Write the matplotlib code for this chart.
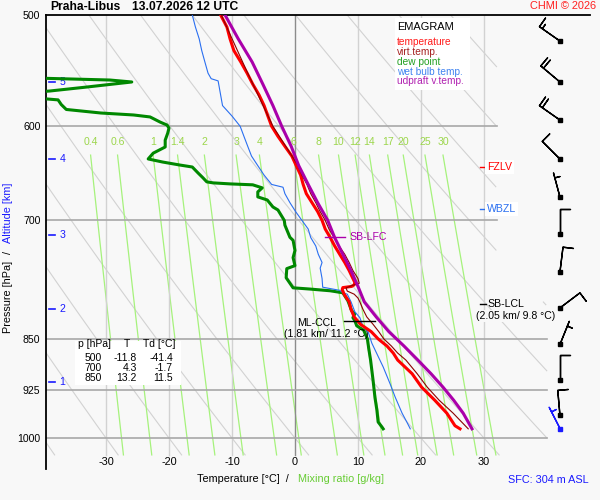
import numpy as np
import matplotlib
matplotlib.use("Agg")
import matplotlib.pyplot as plt
from matplotlib.patches import Rectangle
from matplotlib.ticker import NullLocator

plt.rcParams['font.family'] = ['Liberation Sans', 'DejaVu Sans']

# sounding (pressure hPa, temperature degC)
temp_p = [500, 510, 520, 530, 540, 550, 560, 570, 580, 590, 600, 610, 620, 630,
          640, 650, 660, 670, 680, 690, 700, 710, 720, 730, 740, 750, 760, 770,
          775, 778, 780, 781.5, 784, 790, 800, 810, 820, 830, 840, 850, 860, 870,
          880, 900, 920, 940, 960, 980, 985]
temp_t = [-11.8, -10.8, -10.3, -9.7, -8.6, -7.6, -6.7, -5.7, -4.9, -4.3, -3.7,
          -2.7, -1.6, -0.5, 0.2, 0.9, 1.3, 1.8, 2.7, 3.6, 4.3, 4.8, 5.6, 6.3, 7.1,
          7.9, 8.6, 9.2, 9.5, 9.4, 9.0, 7.6, 7.5, 7.8, 8.6, 8.9, 9.4, 10.4, 12.1,
          13.2, 14.6, 15.6, 16.3, 18.6, 20.1, 22.2, 24.1, 25.4, 26.2]

virt_p = [500, 550, 600, 640, 650, 660, 670, 680, 690, 700, 710, 720, 730, 740,
          750, 760, 770, 776, 779, 782, 786, 790, 795, 800, 810, 820, 830, 840,
          850, 860, 870, 880, 900, 920, 940, 960, 985]
virt_t = [-11.7, -7.5, -3.5, 0.5, 1.1, 1.9, 2.5, 3.3, 4.0, 4.8, 5.4, 6.2, 7.0,
          7.9, 8.6, 9.2, 10.0, 10.2, 9.0, 8.1, 8.3, 9.4, 10.0, 10.3, 10.8, 11.4,
          12.4, 13.3, 14.1, 15.3, 16.3, 17.6, 19.4, 21.0, 22.9, 25.1, 27.5]

dew_p = [500, 520, 540, 554, 556.2, 558.0, 562.6, 566.3, 568.5, 571.5, 574.6,
         579.0, 583.7, 587.1, 589.0, 590.9, 595.9, 598.8, 601.8, 606.8, 613.8,
         620.7, 627.0, 633.0, 636.2, 639.3, 641.4, 647.6, 652.9, 657.2, 658.3,
         659.4, 660.4, 663.7, 668.1, 673.6, 677.0, 684.8, 688.2, 700, 705.5,
         719.7, 723.3, 735.4, 744.1, 753.9, 757.6, 769.0, 781.8, 783.4, 785.6,
         788.2, 798.6, 811.8, 815.8, 821, 825, 832, 838, 850, 863, 880, 910,
         936, 955, 974, 982, 985]
dew_t = [-41.4, -44.0, -46.0, -44.0, -29.4, -25.9, -33.0, -38.9, -44.0, -44.0,
         -37.6, -37.1, -36.3, -30.8, -25.6, -23.0, -21.4, -20.3, -20.0, -20.2,
         -20.6, -20.6, -22.5, -23.3, -21.0, -18.3, -16.3, -15.4, -14.6, -14.0,
         -13.0, -10.3, -6.7, -5.2, -5.9, -5.9, -4.4, -3.5, -2.7, -1.7, -1.6,
         -0.8, -0.3, 0.0, -0.3, 0.0, -1.3, -1.4, -0.3, 2.4, 5.6, 7.6, 8.4, 9.0,
         9.5, 9.2, 9.5, 9.8, 10.9, 11.5, 11.7, 12.0, 12.4, 12.7, 13.0, 13.2,
         13.8, 14.0]

wet_p = [500, 510, 520, 530, 540, 550, 555, 557, 570, 580, 590, 600, 610, 620,
         630, 640, 650, 660, 663, 670, 680, 690, 700, 710, 720, 730, 740, 750,
         757, 770, 781, 785, 788, 790, 800, 813, 821, 833, 840, 856, 871, 890,
         915, 935, 960, 975, 985]
wet_t = [-16.3, -15.8, -15.2, -14.8, -14.3, -13.8, -13.3, -12.2, -11.8, -11.5,
         -10.0, -8.7, -8.1, -7.5, -6.9, -5.9, -4.9, -3.7, -1.9, -1.6, -0.8, 0.1,
         1.1, 2.1, 2.5, 3.3, 3.7, 4.3, 4.0, 4.3, 4.4, 7.1, 7.6, 8.3, 8.9, 9.5,
         10.3, 10.8, 11.6, 12.2, 13.0, 14.0, 15.1, 15.9, 17.0, 17.8, 18.3]

parcel_p = [500, 520, 540, 560, 580, 600, 620, 640, 660, 680, 700, 720, 740, 760,
            780, 800, 820, 840, 860, 880, 900, 920, 940, 960, 985]
parcel_t = [-11.1, -9.0, -6.8, -5.1, -3.5, -2.1, -0.6, 0.6, 2.1, 3.6, 5.2, 6.3,
            7.6, 8.9, 10.0, 11.0, 12.9, 14.9, 17.3, 19.5, 21.6, 23.5, 25.2, 26.7,
            28.1]

# winds every 500 m
wind_p = [521.8, 558.0, 593.9, 633.1, 673.7, 716.0, 761.8, 808.0, 857.8, 909.0, 963.4]
wind_dir = [305, 310, 305, 315, 345, 360, 7, 53, 22, 360, 355]
wind_kt = [15, 20, 20, 10, 5, 10, 10, 10, 5, 10, 10]
sfc_p = 985
sfc_dir = 333
sfc_kt = 5

# axes furniture
p_ticks = [500, 600, 700, 850, 925, 1000]
t_ticks = [-30, -20, -10, 0, 10, 20, 30]
alt_km = [1, 2, 3, 4, 5]
alt_p = [912.7, 809.4, 717.0, 633.1, 558.0]
mix_ratios = [0.4, 0.6, 1, 1.4, 2, 3, 4, 6, 8, 10, 12, 14, 17, 20, 25, 30]
mix_labels = ["0.4", "0.6", "1", "1.4", "2", "3", "4", "6", "8", "10", "12",
              "14", "17", "20", "25", "30"]
adiabat_t1000 = list(range(-40, 100, 10))

table_p = ["500", "700", "850"]
table_t = ["-11.8", "4.3", "13.2"]
table_td = ["-41.4", "-1.7", "11.5"]

fzlv_p = 641.5
wbzl_p = 687.1
lcl_p = 802.9
lfc_p = 719.5
ccl_p = 825.4

BG = "#f8f8f8"


def px(x, y):
    """pixel position -> figure fraction"""
    return x / 600, 1 - y / 500


def mixing_td(w, p):
    e = w * p / (622.0 + w)
    a = np.log(e / 6.112)
    return 243.5 * a / (17.67 - a)


def main():
    fig = plt.figure(figsize=(6, 5), dpi=100, facecolor=BG)
    ax = fig.add_axes([46 / 600, 31 / 500, 544 / 600, 454 / 500])
    ax.set_facecolor(BG)
    ax.set_yscale("log")
    ax.set_xlim(-39.52, 46.83)
    ax.set_ylim(1052, 500)

    for side in ["right", "bottom"]:
        ax.spines[side].set_visible(False)
    ax.spines["top"].set_linewidth(1.3)
    ax.spines["left"].set_linewidth(1.3)

    ax.set_xticks([])
    ax.set_yticks(p_ticks)
    ax.set_yticklabels([str(p) for p in p_ticks])
    ax.yaxis.set_minor_locator(NullLocator())
    ax.tick_params(axis="y", length=0, pad=4, labelsize=7.6)

    # background: dry adiabats
    pp = np.linspace(500, 1028, 300)
    for t0 in adiabat_t1000:
        tt = (t0 + 273.15) * (pp / 1000.0) ** 0.286 - 273.15
        limit = np.where(pp < 800, 32, 40)
        tt = np.where(tt > limit, np.nan, tt)
        ax.plot(tt, pp, color="#d2d2d2", lw=0.8, zorder=1)

    # isotherms
    for t in t_ticks:
        col = "#8c8c8c" if t == 0 else "#d2d2d2"
        ax.plot([t, t], [500, 1028], color=col, lw=1.0, zorder=1.2)
        ax.text(t, 1040, str(t), ha="center", va="center", fontsize=7.8)

    # isobars
    for p in p_ticks[1:]:
        right = 32 if p < 800 else 40
        ax.plot([-39.52, right], [p, p], color="#a8a8a8", lw=1.2, zorder=1.3)

    # mixing ratio lines
    pm = np.linspace(629, 1028, 100)
    for w, lab in zip(mix_ratios, mix_labels):
        ax.plot(mixing_td(w, pm), pm, color="#a6f27c", lw=0.9, zorder=1.1)
        ax.text(mixing_td(w, 629), 615.7, lab, ha="center", va="center",
                fontsize=7.6, color="#9cd64c")

    # altitude marks
    for km, p in zip(alt_km, alt_p):
        ax.plot([-39.1, -38.1], [p, p], color="#1a1aff", lw=1.2, zorder=4)
        ax.text(-37.4, p, str(km), color="#1a1aff", fontsize=7.6,
                ha="left", va="center")

    # profiles
    ax.plot(dew_t, dew_p, color="#008800", lw=2.2, zorder=3)
    ax.plot(wet_t, wet_p, color="#2a6ff0", lw=0.8, zorder=3.1)
    ax.plot(temp_t, temp_p, color="#ff0000", lw=2.2, zorder=3.2)
    ax.plot(virt_t, virt_p, color="#8b0000", lw=0.8, zorder=3.3)
    ax.plot(parcel_t, parcel_p, color="#aa00aa", lw=2.2, zorder=3.4)

    # levels
    ax.plot([29.4, 30.3], [fzlv_p, fzlv_p], color="red", lw=1)
    ax.text(30.5, fzlv_p, "FZLV", color="red", fontsize=7.6, va="center",
            bbox=dict(facecolor="white", edgecolor="none", pad=1.2))
    ax.plot([29.4, 30.3], [wbzl_p, wbzl_p], color="#2a6ff0", lw=1)
    ax.text(30.5, wbzl_p, "WBZL", color="#2a6ff0", fontsize=7.6, va="center",
            bbox=dict(facecolor="white", edgecolor="none", pad=1.2))
    ax.plot([29.4, 30.3], [lcl_p, lcl_p], color="black", lw=1)
    ax.text(30.5, lcl_p, "SB-LCL", color="black", fontsize=7.6, va="center")
    ax.text(35.1, 818.9, "(2.05 km/ 9.8 \u00b0C)", color="black", fontsize=7.6,
            ha="center", va="center",
            bbox=dict(facecolor=BG, edgecolor="none", pad=0.5))
    ax.plot([4.8, 7.9], [lfc_p, lfc_p], color="#aa00aa", lw=1, zorder=5)
    ax.text(8.7, lfc_p, "SB-LFC", color="#aa00aa", fontsize=7.6, va="center")
    ax.plot([7.8, 12.7], [ccl_p, ccl_p], color="black", lw=1, zorder=5)
    ax.text(3.5, 828, "ML-CCL", color="black", fontsize=7.6, ha="center",
            va="center")
    ax.text(4.9, 843, "(1.81 km/ 11.2 \u00b0C)", color="black", fontsize=7.6,
            ha="center", va="center")

    # wind barbs
    bx = 42.06
    d = np.radians(wind_dir)
    u = -np.array(wind_kt) * np.sin(d)
    v = -np.array(wind_kt) * np.cos(d)
    sizes = dict(emptybarb=0.0, spacing=0.14, height=0.42, width=0.0)
    ax.barbs([bx] * len(wind_p), wind_p, u, v, length=6, sizes=sizes,
             color="black", linewidth=1, clip_on=False, zorder=6)
    ax.plot([bx] * len(wind_p), wind_p, "s", ms=2.4, color="black",
            clip_on=False, zorder=6)
    ds = np.radians(sfc_dir)
    ax.barbs([bx], [sfc_p], [-sfc_kt * np.sin(ds)], [-sfc_kt * np.cos(ds)],
             length=6, sizes=sizes, color="#1a1aff", linewidth=1,
             clip_on=False, zorder=6)
    ax.plot([bx], [sfc_p], "s", ms=2.4, color="#1a1aff", clip_on=False,
            zorder=6)

    # legend box
    fig.add_artist(Rectangle(px(395, 90), 75 / 600, 72 / 500,
                             transform=fig.transFigure, facecolor="white",
                             edgecolor="none", zorder=2))
    fig.text(*px(397, 27), "EMAGRAM", fontsize=7.9, va="center", zorder=3)
    legend_items = [("temperature", "#ff1a1a"), ("virt.temp.", "#a52020"),
                    ("dew point", "#22a022"), ("wet bulb temp.", "#3f83f0"),
                    ("udpraft v.temp.", "#b020b0")]
    for i, (lab, col) in enumerate(legend_items):
        fig.text(*px(397, 42.3 + 9.8 * i), lab, color=col, fontsize=7.3,
                 va="center", zorder=3)

    # table box
    fig.add_artist(Rectangle(px(75, 385), 106 / 600, 44 / 500,
                             transform=fig.transFigure, facecolor="white",
                             edgecolor="none", zorder=2))
    fig.text(*px(78, 344), "p [hPa]", fontsize=7.5, va="center", zorder=3)
    fig.text(*px(127, 344), "T", fontsize=7.5, va="center", ha="center",
             zorder=3)
    fig.text(*px(143, 344), "Td [\u00b0C]", fontsize=7.5, va="center",
             zorder=3)
    for i in range(len(table_p)):
        y = 358.3 + 10 * i
        fig.text(*px(102, y), table_p[i], fontsize=7.5, va="center",
                 ha="right", zorder=3)
        fig.text(*px(137, y), table_t[i], fontsize=7.5, va="center",
                 ha="right", zorder=3)
        fig.text(*px(173, y), table_td[i], fontsize=7.5, va="center",
                 ha="right", zorder=3)

    # titles and axis labels
    fig.text(*px(50, 7), "Praha-Libus", fontsize=8.7, fontweight="bold",
             va="center")
    fig.text(*px(132, 7), "13.07.2026 12 UTC", fontsize=8.7,
             fontweight="bold", va="center")
    fig.text(*px(596, 6), "CHMI \u00a9 2026", fontsize=7.9, color="#ff2020",
             ha="right", va="center")
    fig.text(*px(197, 479), "Temperature [\u00b0C]  /", fontsize=7.8,
             va="center")
    fig.text(*px(298, 479), "Mixing ratio [g/kg]", fontsize=7.8,
             color="#66cc33", va="center")
    fig.text(*px(8, 297), "Pressure [hPa]", fontsize=7.8, rotation=90,
             ha="center", va="center")
    fig.text(*px(8, 253), "/", fontsize=7.8, rotation=90, ha="center",
             va="center")
    fig.text(*px(8, 213), "Altitude [km]", fontsize=7.8, rotation=90,
             ha="center", va="center", color="#1a1aff")
    fig.text(*px(589, 480), "SFC: 304 m ASL", fontsize=7.8, color="#1a1aff",
             ha="right", va="center")

    fig.savefig("out.png", dpi=100, facecolor=BG)


if __name__ == "__main__":
    main()
